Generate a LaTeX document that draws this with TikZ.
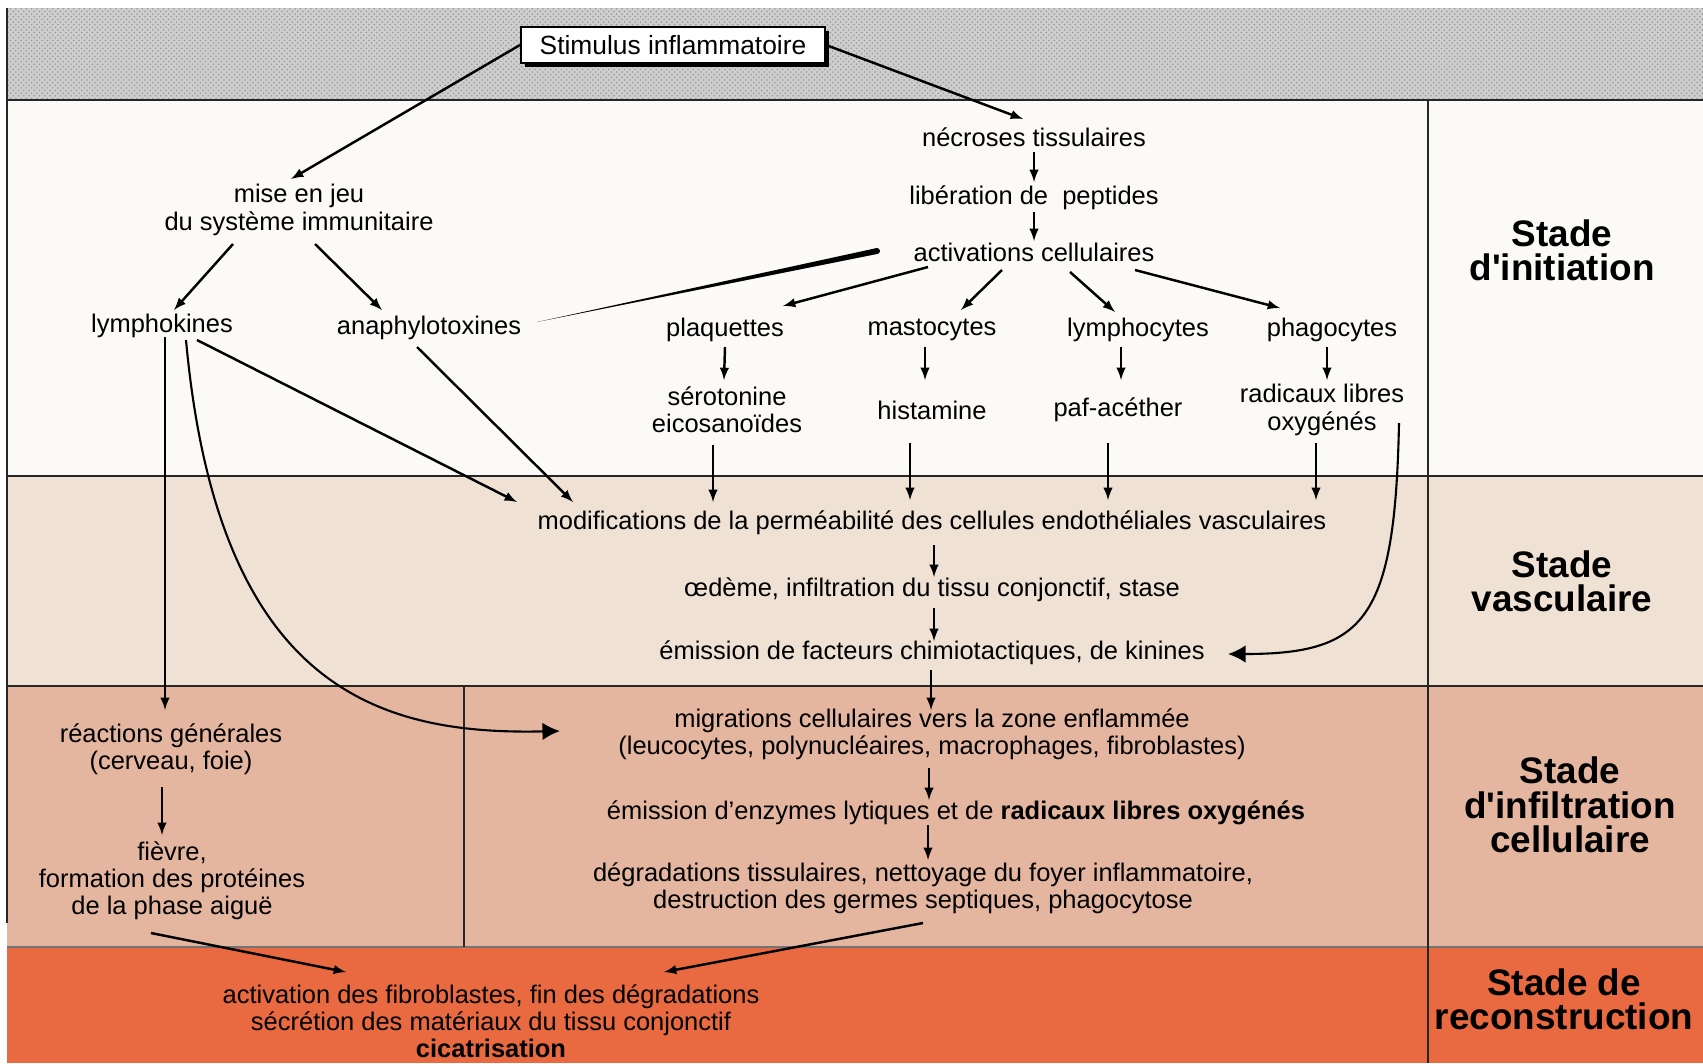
\documentclass[tikz,border=0pt]{standalone}
\usepackage{fontspec}
\setmainfont{Liberation Sans}
\usetikzlibrary{positioning, calc, shadows, arrows.meta, patterns}

\definecolor{bandgris}{RGB}{206,206,206}
\definecolor{bandinit}{RGB}{251,250,246}
\definecolor{bandvasc}{RGB}{239,226,212}
\definecolor{bandinfil}{RGB}{228,182,160}
\definecolor{bandrecon}{RGB}{233,106,64}

\tikzset{
  txt/.style={font=\fontsize{14.5}{15.5}\selectfont, align=center, inner sep=1pt},
  stade/.style={font=\fontsize{21}{19.5}\selectfont\bfseries, align=center},
  fleche/.style={-latex, line width=1.4pt},
  grandefleche/.style={-{Latex[length=10pt,width=10pt]}, line width=1.2pt},
  trait/.style={line width=1.4pt, draw=black!85},
}

\begin{document}
\begin{tikzpicture}[x=0.02cm, y=0.02cm]
\useasboundingbox (0,0) rectangle (1703,-1063);
% bandes des stades
\fill[bandgris] (7,-8) rectangle (1703,-100);
\fill[pattern=crosshatch dots, pattern color=gray!80] (7,-8) rectangle (1703,-100);
\fill[bandinit] (7,-100) rectangle (1703,-476);
\fill[bandvasc] (7,-476) rectangle (1703,-686);
\fill[bandinfil] (7,-686) rectangle (1703,-947);
\fill[bandrecon] (7,-947) rectangle (1703,-1063);
\draw[trait] (7,-100) -- (1703,-100);
\draw[trait] (7,-476) -- (1703,-476);
\draw[trait] (7,-686) -- (1703,-686);
\draw[trait, draw=black!55] (7,-947) -- (1703,-947);
\draw[trait] (1428,-100) -- (1428,-1063);
\draw[trait] (464,-686) -- (464,-947);
\draw[trait] (7,-8) -- (7,-923);

% stades
\node[stade] (sinit) at (1562,-250) {Stade\\d\textquotesingle initiation};
\node[stade] (svasc) at (1562,-581) {Stade\\vasculaire};
\node[stade] (sinfil) at (1570,-805) {Stade\\d\textquotesingle infiltration\\cellulaire};
\node[stade] (srecon) at (1564,-999) {Stade de\\reconstruction};

% noeuds
\node[draw, fill=white, line width=1.2pt, minimum width=6.08cm, minimum height=0.72cm,
  font=\fontsize{15}{16}\selectfont,
  drop shadow={shadow xshift=2.5pt, shadow yshift=-2.5pt, opacity=1, fill=black}]
  (stim) at (673,-45) {Stimulus inflammatoire};
\node[txt] (necr) at (1034,-137) {nécroses tissulaires};
\node[txt] (lib) at (1034,-198) {libération de\ \ peptides};
\node[txt] (act) at (1034,-252) {activations cellulaires};
\node[txt] (mise) at (299,-210) {mise en jeu\\du système immunitaire};
\node[txt] (lymk) at (162,-326) {lymphokines};
\node[txt] (anaph) at (429,-328) {anaphylotoxines};
\node[txt] (plaq) at (725,-330) {plaquettes};
\node[txt] (masto) at (932,-330) {mastocytes};
\node[txt] (lymc) at (1138,-330) {lymphocytes};
\node[txt] (phago) at (1332,-330) {phagocytes};
\node[txt] (sero) at (727,-410) {sérotonine\\eicosanoïdes};
\node[txt] (hist) at (932,-410) {histamine};
\node[txt] (paf) at (1118,-410) {paf-acéther};
\node[txt] (radic) at (1322,-410) {radicaux libres\\oxygénés};
\node[txt] (modif) at (932,-523) {modifications de la perméabilité des cellules endothéliales vasculaires};
\node[txt] (oed) at (932,-590) {œdème, infiltration du tissu conjonctif, stase};
\node[txt] (emis) at (932,-653) {émission de facteurs chimiotactiques, de kinines};
\node[txt] (migr) at (932,-734) {migrations cellulaires vers la zone enflammée\\(leucocytes, polynucléaires, macrophages, fibroblastes)};
\node[txt] (enz) at (956,-813) {émission d'enzymes lytiques et de \textbf{radicaux libres oxygénés}};
\node[txt] (degr) at (923,-888) {dégradations tissulaires, nettoyage du foyer inflammatoire,\\destruction des germes septiques, phagocytose};
\node[txt] (reac) at (171,-749) {réactions générales\\(cerveau, foie)};
\node[txt] (fievre) at (172,-881) {fièvre,\\formation des protéines\\de la phase aiguë};
\node[txt] (fibro) at (491,-1021) {activation des fibroblastes, fin des dégradations\\sécrétion des matériaux du tissu conjonctif\\\textbf{cicatrisation}};

% fleches du stade d'initiation
\draw[fleche] (stim.west) -- ($(mise)+(-8,31)$);
\draw[fleche] (stim.east) -- ($(necr)+(-11,18)$);
\draw[fleche] ($(necr)+(0,-15)$) -- ($(lib)+(0,16)$);
\draw[fleche] ($(lib)+(0,-14)$) -- ($(act)+(0,11)$);
\draw[fleche] ($(mise)+(-66,-34)$) -- ($(lymk)+(12,16)$);
\draw[fleche] ($(mise)+(16,-34)$) -- ($(anaph)+(-47,18)$);
\fill ($(anaph)+(108,6)$) -- ($(act)+(-157.6,3.9)$) -- ($(act)+(-156.4,-1.9)$) -- cycle;
\fill ($(act)+(-157,1)$) circle (3);
\draw[fleche] ($(act)+(-106,-15)$) -- ($(plaq)+(58,24)$);
\draw[fleche] ($(act)+(-32,-18)$) -- ($(masto)+(29,20)$);
\draw[fleche] ($(act)+(36,-20)$) -- ($(lymc)+(-23,18)$);
\draw[fleche] ($(act)+(101,-18)$) -- ($(phago)+(-52,22)$);
\draw[fleche] ($(plaq)+(0,-17)$) -- ($(sero)+(-3,30)$);
\draw[fleche] ($(masto)+(-7,-17)$) -- ($(hist)+(-7,30)$);
\draw[fleche] ($(lymc)+(-17,-17)$) -- ($(paf)+(3,30)$);
\draw[fleche] ($(phago)+(-5,-17)$) -- ($(radic)+(5,30)$);

% vers le stade vasculaire
\draw[fleche] ($(sero)+(-14,-35)$) -- ($(modif)+(-219,21)$);
\draw[fleche] ($(hist)+(-22,-33)$) -- ($(modif)+(-22,23)$);
\draw[fleche] ($(paf)+(-10,-33)$) -- ($(modif)+(176,23)$);
\draw[fleche] ($(radic)+(-6,-33)$) -- ($(modif)+(384,23)$);
\draw[fleche] ($(lymk)+(35,-14)$) -- ($(modif)+(-415,21)$);
\draw[fleche] ($(anaph)+(-12,-19)$) -- ($(modif)+(-359,21)$);
\draw[fleche] ($(lymk)+(3,-11)$) -- ($(reac)+(-6,39)$);
\draw[grandefleche] ($(lymk)+(24,-14)$)
  .. controls (218,-690) and (380,-735) .. ($(migr)+(-372,3)$);
\draw[grandefleche] ($(radic)+(77,-13)$)
  .. controls (1395,-620) and (1365,-654) .. ($(emis)+(296,-1)$);
\draw[fleche] ($(modif)+(2,-22)$) -- ($(oed)+(2,13)$);
\draw[fleche] ($(oed)+(2,-18)$) -- ($(emis)+(2,12)$);

% infiltration et reconstruction
\draw[fleche] ($(emis)+(-1,-17)$) -- ($(migr)+(-1,24)$);
\draw[fleche] ($(migr)+(-3,-34)$) -- ($(enz)+(-27,13)$);
\draw[fleche] ($(enz)+(-28,-12)$) -- ($(degr)+(5,28)$);
\draw[fleche] ($(reac)+(-9,-38)$) -- ($(fievre)+(-10,46)$);
\draw[fleche] ($(fievre)+(-21,-52)$) -- ($(fibro)+(-145,49)$);
\draw[fleche] ($(degr)+(0,-35)$) -- ($(fibro)+(173,49)$);
\end{tikzpicture}
\end{document}
